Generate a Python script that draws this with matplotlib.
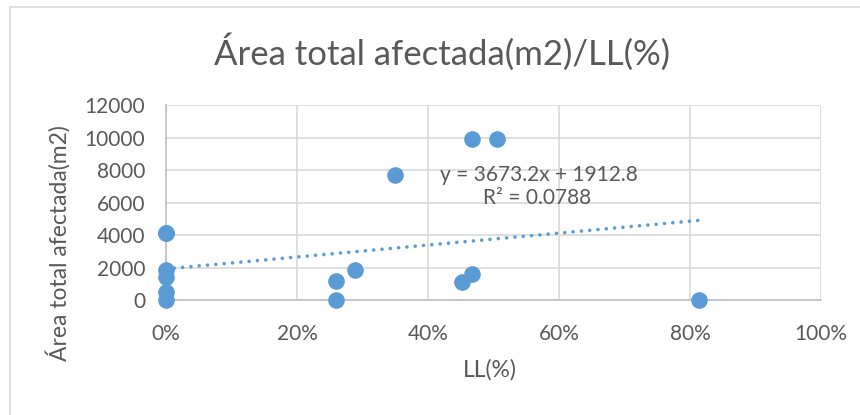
import numpy as np
import matplotlib.pyplot as plt
from matplotlib.patches import Rectangle
from matplotlib.ticker import PercentFormatter

plt.rcParams['font.family'] = ['Lato', 'DejaVu Sans']

# LL como fracción y área total afectada en m2
ll = [0, 0, 0, 0, 0, 0, 0.259, 0.289, 0.259, 0.349, 0.452, 0.467, 0.467, 0.506, 0.814]
area = [4100, 4150, 1850, 1400, 500, 0, 1200, 1850, 0, 7700, 1100, 1600, 9900, 9900, 0]

# recta de tendencia lineal
pendiente = 3673.2
ordenada = 1912.8
r2 = 0.0788

azul = '#5B9BD5'
gris = '#595959'

fig = plt.figure(figsize=(8.6, 4.15), dpi=100)
fig.patches.append(Rectangle((10 / 860, -0.1), 1.2, 1 - 7 / 415 + 0.1,
                             transform=fig.transFigure, fill=False,
                             edgecolor='#d9d9d9', linewidth=1.2))

ax = fig.add_axes([166 / 860, 1 - 300 / 415, 655 / 860, 195 / 415])
ax.set_xlim(0, 1)
ax.set_ylim(0, 12000)
ax.set_xticks(np.arange(0, 1.01, 0.2))
ax.set_yticks(np.arange(0, 12001, 2000))
ax.xaxis.set_major_formatter(PercentFormatter(1.0, decimals=0))
ax.grid(True, color='#d9d9d9', linewidth=1.2)
ax.set_axisbelow(True)
for lado in ['top', 'right']:
    ax.spines[lado].set_visible(False)
for lado in ['left', 'bottom']:
    ax.spines[lado].set_color('#bfbfbf')
    ax.spines[lado].set_linewidth(1.2)
ax.tick_params(length=0, labelsize=15, labelcolor=gris)
ax.tick_params(axis='y', pad=15)
ax.tick_params(axis='x', pad=17)

ax.scatter(ll, area, s=120, color=azul, zorder=3, clip_on=False)

# línea de tendencia punteada con puntos redondos
xt = np.array([0, max(ll)])
ax.plot(xt, pendiente * xt + ordenada, color=azul, linewidth=2.6,
        linestyle=(0, (0.01, 2.3)), dash_capstyle='round', zorder=2)

ax.text(0.57, 7700, f'y = {pendiente}x + {ordenada}', ha='center', va='center',
        fontsize=15, color=gris)
ax.text(0.567, 6250, f'R² = {r2}', ha='center', va='center',
        fontsize=15, color=gris)

fig.text(490 / 860, 1 - 370 / 415, 'LL(%)', ha='center', va='center',
         fontsize=16.5, color=gris)
fig.text(58 / 860, 1 - 243 / 415, 'Área total afectada(m2)', ha='center',
         va='center', rotation=90, fontsize=16.5, color=gris)
fig.text(442 / 860, 1 - 52 / 415, 'Área total afectada(m2)/LL(%)', ha='center',
         va='center', fontsize=25, color=gris)

fig.savefig('out.png')
